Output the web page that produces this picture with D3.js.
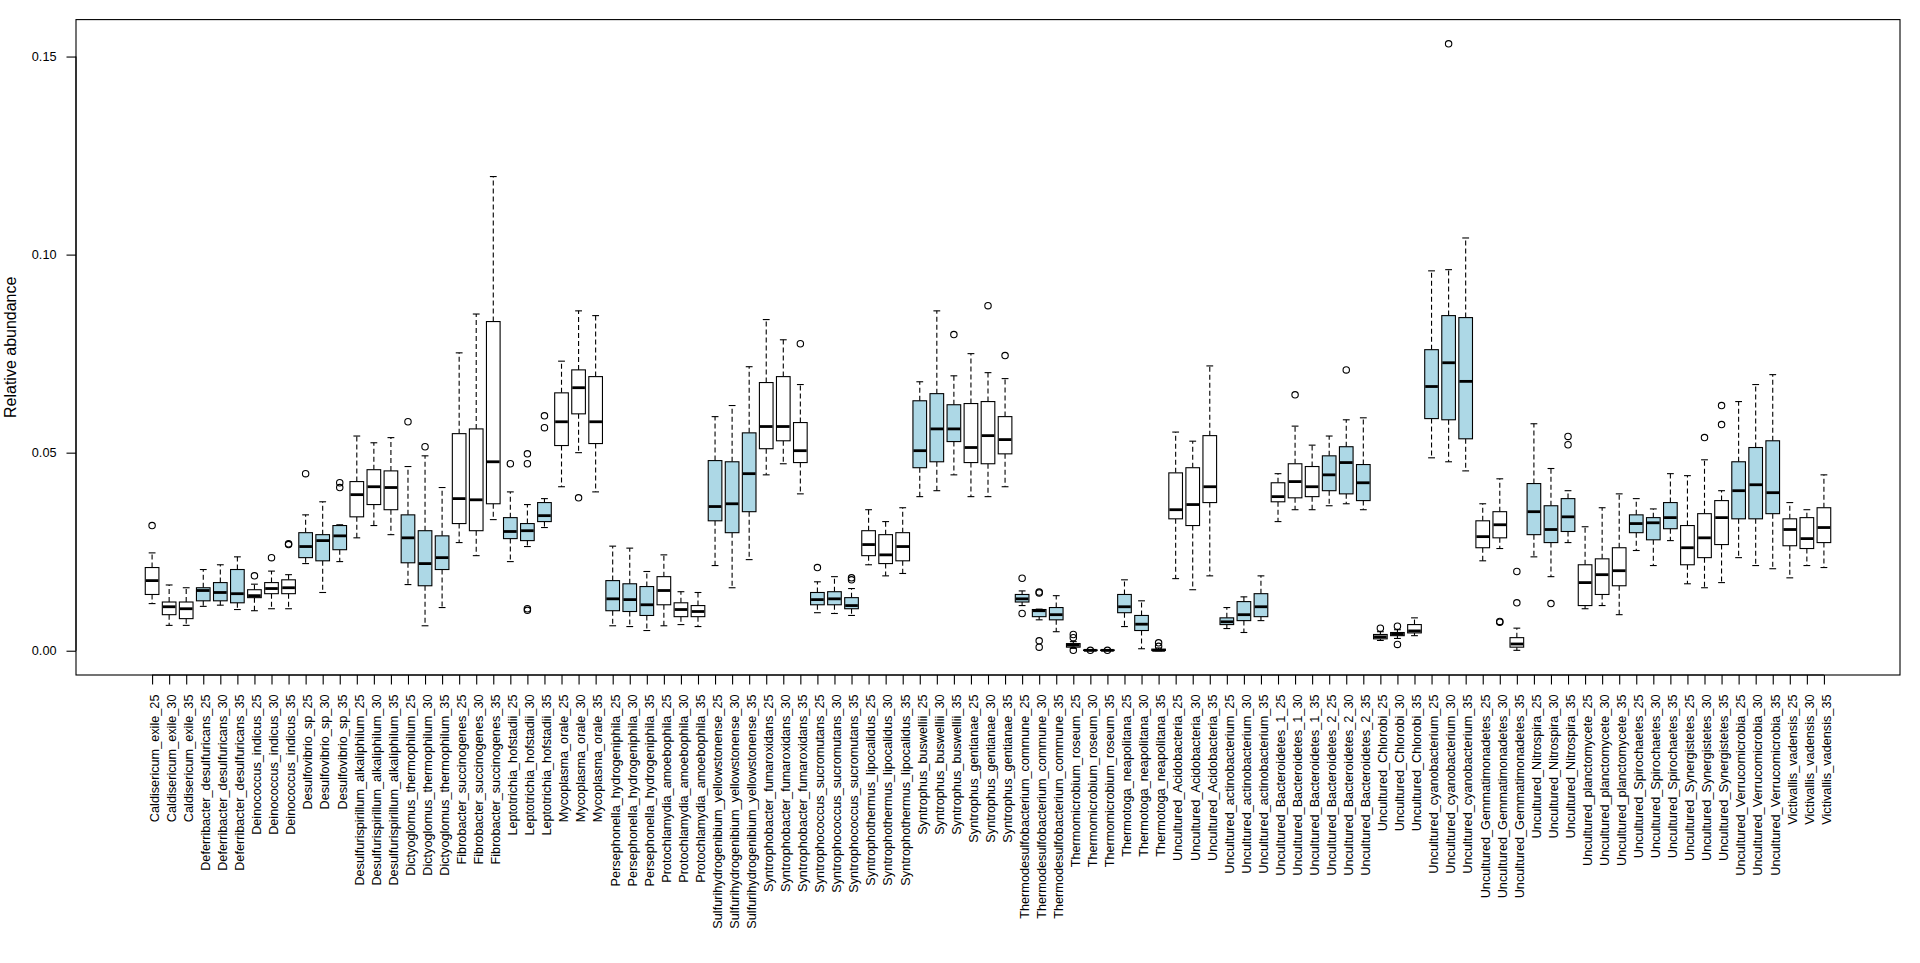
<!DOCTYPE html>
<html>
<head>
<meta charset="utf-8">
<script src="https://cdn.jsdelivr.net/npm/d3@7"></script>
<style>
  html, body { margin: 0; padding: 0; background: #ffffff; }
  svg { display: block; font-family: "Liberation Sans", Arial, sans-serif; }
</style>
</head>
<body>
<svg id="chart" width="1920" height="963"></svg>
<script>
// ---------------- data ----------------
const species = [
  "Caldisericum_exile", "Deferribacter_desulfuricans", "Deinococcus_indicus", "Desulfovibrio_sp",
  "Desulfurispirillum_alkaliphilum", "Dictyoglomus_thermophilum", "Fibrobacter_succinogenes",
  "Leptotrichia_hofstadii", "Mycoplasma_orale", "Persephonella_hydrogeniphila", "Protochlamydia_amoebophila",
  "Sulfurihydrogenibium_yellowstonense", "Syntrophobacter_fumaroxidans", "Syntrophococcus_sucromutans",
  "Syntrophothermus_lipocalidus", "Syntrophus_buswellii", "Syntrophus_gentianae",
  "Thermodesulfobacterium_commune", "Thermomicrobium_roseum", "Thermotoga_neapolitana",
  "Uncultured_Acidobacteria", "Uncultured_actinobacterium", "Uncultured_Bacteroidetes_1",
  "Uncultured_Bacteroidetes_2", "Uncultured_Chlorobi", "Uncultured_cyanobacterium",
  "Uncultured_Gemmatimonadetes", "Uncultured_Nitrospira", "Uncultured_planctomycete",
  "Uncultured_Spirochaetes", "Uncultured_Synergistetes", "Uncultured_Verrucomicrobia", "Victivallis_vadensis"
];
const temperatures = ["25", "30", "35"];

const whiskerLow = [
  0.0119,0.0064,0.0064, 0.0112,0.0115,0.0104, 0.0101,0.0106,0.0106, 0.0220,0.0147,0.0225,
  0.0285,0.0316,0.0293, 0.0167,0.0063,0.0109, 0.0273,0.0240,0.0331, 0.0225,0.0263,0.0311,
  0.0414,0.0500,0.0401, 0.0063,0.0061,0.0051, 0.0063,0.0066,0.0061, 0.0215,0.0159,0.0230,
  0.0444,0.0472,0.0396, 0.0096,0.0094,0.0089, 0.0217,0.0189,0.0195, 0.0389,0.0404,0.0444,
  0.0389,0.0389,0.0414, 0.0114,0.0078,0.0048, 0.0006,0.0000,0.0000, 0.0061,0.0005,0.0000,
  0.0182,0.0154,0.0189, 0.0056,0.0046,0.0076, 0.0326,0.0356,0.0356, 0.0366,0.0371,0.0356,
  0.0026,0.0031,0.0038, 0.0487,0.0477,0.0454, 0.0227,0.0258,0.0001, 0.0237,0.0187,0.0273,
  0.0106,0.0114,0.0091, 0.0253,0.0215,0.0278, 0.0169,0.0159,0.0172, 0.0235,0.0215,0.0207,
  0.0184,0.0215,0.0210
];
const lowerQuartile = [
  0.0142,0.0091,0.0081, 0.0126,0.0126,0.0121, 0.0134,0.0144,0.0144, 0.0235,0.0227,0.0255,
  0.0338,0.0369,0.0356, 0.0222,0.0164,0.0205, 0.0321,0.0303,0.0371, 0.0283,0.0278,0.0326,
  0.0518,0.0598,0.0523, 0.0101,0.0099,0.0089, 0.0116,0.0086,0.0086, 0.0328,0.0298,0.0351,
  0.0510,0.0530,0.0475, 0.0116,0.0116,0.0106, 0.0240,0.0220,0.0227, 0.0462,0.0477,0.0528,
  0.0475,0.0472,0.0497, 0.0123,0.0086,0.0078, 0.0009,0.00005,0.00005, 0.0096,0.0051,0.00005,
  0.0333,0.0316,0.0374, 0.0066,0.0076,0.0086, 0.0376,0.0386,0.0389, 0.0404,0.0396,0.0379,
  0.0030,0.0038,0.0045, 0.0586,0.0583,0.0535, 0.0260,0.0285,0.0009, 0.0293,0.0273,0.0301,
  0.0114,0.0142,0.0164, 0.0298,0.0280,0.0308, 0.0217,0.0235,0.0268, 0.0333,0.0333,0.0346,
  0.0265,0.0258,0.0273
];
const medians = [
  0.0177,0.0111,0.0106, 0.0152,0.0147,0.0144, 0.0139,0.0157,0.0159, 0.0263,0.0278,0.0290,
  0.0394,0.0414,0.0412, 0.0285,0.0220,0.0235, 0.0384,0.0381,0.0477, 0.0301,0.0303,0.0341,
  0.0578,0.0664,0.0578, 0.0131,0.0129,0.0116, 0.0152,0.0104,0.0099, 0.0364,0.0371,0.0447,
  0.0566,0.0566,0.0505, 0.0129,0.0131,0.0114, 0.0268,0.0242,0.0263, 0.0505,0.0560,0.0560,
  0.0513,0.0543,0.0533, 0.0131,0.0101,0.0091, 0.0014,0.0001,0.0001, 0.0111,0.0067,0.0001,
  0.0356,0.0369,0.0414, 0.0073,0.0091,0.0111, 0.0389,0.0427,0.0414, 0.0444,0.0475,0.0424,
  0.0035,0.0042,0.0050, 0.0667,0.0727,0.0680, 0.0288,0.0318,0.0017, 0.0351,0.0306,0.0338,
  0.0172,0.0192,0.0202, 0.0321,0.0323,0.0336, 0.0260,0.0285,0.0336, 0.0404,0.0419,0.0399,
  0.0306,0.0283,0.0311
];
const upperQuartile = [
  0.0210,0.0123,0.0123, 0.0159,0.0172,0.0205, 0.0154,0.0172,0.0179, 0.0298,0.0293,0.0316,
  0.0427,0.0457,0.0454, 0.0343,0.0303,0.0290, 0.0548,0.0560,0.0831, 0.0336,0.0321,0.0374,
  0.0651,0.0709,0.0692, 0.0177,0.0169,0.0162, 0.0187,0.0121,0.0114, 0.0480,0.0477,0.0550,
  0.0677,0.0692,0.0576, 0.0147,0.0149,0.0134, 0.0303,0.0293,0.0298, 0.0631,0.0649,0.0621,
  0.0624,0.0629,0.0591, 0.0142,0.0104,0.0109, 0.0018,0.0002,0.0002, 0.0142,0.0089,0.0004,
  0.0449,0.0462,0.0543, 0.0083,0.0124,0.0144, 0.0424,0.0472,0.0465, 0.0492,0.0515,0.0470,
  0.0041,0.0046,0.0066, 0.0760,0.0846,0.0841, 0.0328,0.0351,0.0033, 0.0422,0.0366,0.0384,
  0.0217,0.0232,0.0260, 0.0343,0.0336,0.0374, 0.0316,0.0346,0.0379, 0.0477,0.0513,0.0530,
  0.0333,0.0336,0.0361
];
const whiskerHigh = [
  0.0247,0.0166,0.0159, 0.0205,0.0217,0.0237, 0.0168,0.0201,0.0192, 0.0343,0.0376,0.0318,
  0.0542,0.0525,0.0538, 0.0465,0.0492,0.0412, 0.0752,0.0850,0.1197, 0.0401,0.0369,0.0384,
  0.0731,0.0858,0.0846, 0.0264,0.0259,0.0200, 0.0242,0.0149,0.0147, 0.0591,0.0619,0.0717,
  0.0836,0.0785,0.0672, 0.0174,0.0187,0.0157, 0.0356,0.0326,0.0361, 0.0679,0.0858,0.0694,
  0.0750,0.0702,0.0687, 0.0151,0.0105,0.0139, 0.0023,0.0003,0.0003, 0.0179,0.0126,0.0007,
  0.0552,0.0529,0.0719, 0.0109,0.0136,0.0189, 0.0447,0.0567,0.0519, 0.0542,0.0583,0.0588,
  0.0048,0.0053,0.0083, 0.0959,0.0962,0.1042, 0.0371,0.0434,0.0057, 0.0573,0.0460,0.0404,
  0.0313,0.0361,0.0396, 0.0384,0.0358,0.0447, 0.0442,0.0482,0.0404, 0.0629,0.0672,0.0697,
  0.0374,0.0356,0.0444
];
const outliers = [
  [0.0316],[],[], [],[],[], [0.0189],[0.0235],[0.0268,0.0270], [0.0447],[],[0.0412,0.0424],
  [],[],[], [0.0578],[0.0515],[], [],[],[], [0.0472],[0.0102,0.0106,0.0472,0.0497],[0.0563,0.0593],
  [],[0.0386],[], [],[],[], [],[],[], [],[],[],
  [],[],[0.0775], [0.0210],[],[0.0179,0.0184], [],[],[], [],[],[0.0798],
  [],[0.0871],[0.0745], [0.0094,0.0183],[0.0009,0.0025,0.0146,0.0148],[], [0.0001,0.0033,0.0041],[0.0001],[0.0001], [],[],[0.0011,0.0020],
  [],[],[], [],[],[], [],[0.0646],[], [],[0.0709],[],
  [0.0057],[0.0016,0.0062],[], [],[0.1532],[], [],[0.0072,0.0074],[0.0121,0.0200], [],[0.0119],[0.0520,0.0541],
  [],[],[], [],[],[], [],[0.0538],[0.0571,0.0619], [],[],[],
  [],[],[]
];
const yTickValues = [0, 0.05, 0.10, 0.15];
const yTitle = "Relative abundance";
const groupFills = ["#FFFFFF", "#ADD8E6"];

// ---------------- build ----------------
const labels = species.flatMap(s => temperatures.map(t => `${s}_${t}`));
const n = labels.length;
const boxes = labels.map((lab, i) => ({
  label: lab, pos: i + 1, group: Math.floor(i / temperatures.length),
  lw: whiskerLow[i], q1: lowerQuartile[i], med: medians[i], q3: upperQuartile[i], uw: whiskerHigh[i],
  out: outliers[i]
}));

const plot = { left: 76, right: 1900, top: 19.6, bottom: 675 };
const svg = d3.select("#chart");

const xPad = 0.04 * n;
const x = d3.scaleLinear().domain([0.5 - xPad, n + 0.5 + xPad]).range([plot.left, plot.right]);

const allVals = boxes.flatMap(b => [b.lw, b.uw, ...b.out]);
const lo = d3.min(allVals), hi = d3.max(allVals);
const yPad = 0.04 * (hi - lo);
const y = d3.scaleLinear().domain([lo - yPad, hi + yPad]).range([plot.bottom, plot.top]);

const boxHalf = x(1.4) - x(1);
const stapleHalf = x(1.2) - x(1);

// boxes
const g = svg.append("g");
const bg = g.selectAll("g.box").data(boxes).join("g")
  .attr("class", "box")
  .attr("transform", d => `translate(${x(d.pos)},0)`);

bg.append("line").attr("x1", 0).attr("x2", 0)
  .attr("y1", d => y(d.q3)).attr("y2", d => y(d.uw))
  .attr("stroke", "#000").attr("stroke-width", 1.1).attr("stroke-dasharray", "5,3");
bg.append("line").attr("x1", 0).attr("x2", 0)
  .attr("y1", d => y(d.q1)).attr("y2", d => y(d.lw))
  .attr("stroke", "#000").attr("stroke-width", 1.1).attr("stroke-dasharray", "5,3");
bg.append("line").attr("x1", -stapleHalf).attr("x2", stapleHalf)
  .attr("y1", d => y(d.uw)).attr("y2", d => y(d.uw))
  .attr("stroke", "#000").attr("stroke-width", 1.1);
bg.append("line").attr("x1", -stapleHalf).attr("x2", stapleHalf)
  .attr("y1", d => y(d.lw)).attr("y2", d => y(d.lw))
  .attr("stroke", "#000").attr("stroke-width", 1.1);
bg.append("rect")
  .attr("x", -boxHalf).attr("width", 2 * boxHalf)
  .attr("y", d => y(d.q3)).attr("height", d => Math.max(0.5, y(d.q1) - y(d.q3)))
  .attr("fill", d => groupFills[d.group % 2])
  .attr("stroke", "#000").attr("stroke-width", 1.1);
bg.append("line").attr("x1", -boxHalf + 0.5).attr("x2", boxHalf - 0.5)
  .attr("y1", d => y(d.med)).attr("y2", d => y(d.med))
  .attr("stroke", "#000").attr("stroke-width", 2.8);
bg.selectAll("circle").data(d => d.out).join("circle")
  .attr("cx", 0).attr("cy", v => y(v)).attr("r", 3.2)
  .attr("fill", "none").attr("stroke", "#000").attr("stroke-width", 1.1);

// frame
svg.append("rect")
  .attr("x", plot.left).attr("y", plot.top)
  .attr("width", plot.right - plot.left).attr("height", plot.bottom - plot.top)
  .attr("fill", "none").attr("stroke", "#000").attr("stroke-width", 1.1);

// y axis
const yAxis = svg.append("g")
  .attr("transform", `translate(${plot.left},0)`)
  .call(d3.axisLeft(y).tickValues(yTickValues).tickFormat(d3.format(".2f"))
    .tickSize(9.5).tickPadding(10).tickSizeOuter(0));
yAxis.select(".domain").remove();
yAxis.append("line").attr("x1", 0).attr("x2", 0)
  .attr("y1", y(yTickValues[0])).attr("y2", y(yTickValues[yTickValues.length - 1]))
  .attr("stroke", "#000");
yAxis.selectAll("text").attr("font-size", "12.7px").attr("fill", "#000")
  .attr("font-family", "'Liberation Sans', Arial, sans-serif");
yAxis.selectAll("line").attr("stroke", "#000").attr("stroke-width", 1.1);

// x axis
const xAxis = svg.append("g")
  .attr("transform", `translate(0,${plot.bottom})`)
  .call(d3.axisBottom(x).tickValues(d3.range(1, n + 1)).tickFormat(i => labels[i - 1])
    .tickSize(9.5).tickSizeOuter(0));
xAxis.select(".domain").remove();
xAxis.append("line").attr("x1", x(1)).attr("x2", x(n)).attr("y1", 0).attr("y2", 0).attr("stroke", "#000");
xAxis.selectAll("line").attr("stroke", "#000").attr("stroke-width", 1.1);
xAxis.selectAll(".tick text")
  .attr("transform", "rotate(-90)")
  .attr("x", -19.5).attr("y", 6.3).attr("dy", null)
  .attr("text-anchor", "end")
  .attr("font-size", "12.7px").attr("fill", "#000")
  .attr("font-family", "'Liberation Sans', Arial, sans-serif");

// y title
svg.append("text")
  .attr("transform", `translate(15.5,${(plot.top + plot.bottom) / 2}) rotate(-90)`)
  .attr("text-anchor", "middle")
  .attr("font-size", "16px").attr("fill", "#000")
  .text(yTitle);
</script>
</body>
</html>
